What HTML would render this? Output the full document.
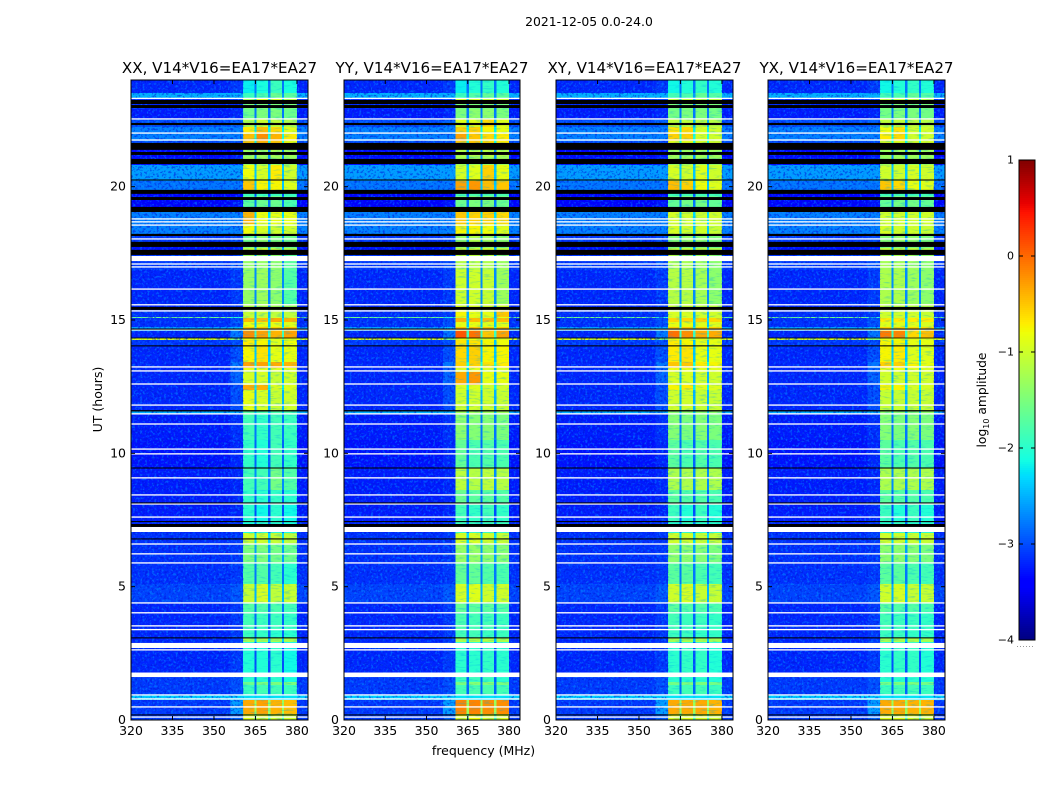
<!DOCTYPE html>
<html lang="en">
<head>
<meta charset="utf-8">
<title>2021-12-05 amplitude waterfall</title>
<style>
  html,body{margin:0;padding:0;background:#fff;width:1050px;height:800px;overflow:hidden}
  svg{display:block}
  text{font-family:"DejaVu Sans","Liberation Sans",sans-serif;fill:#000}
</style>
</head>
<body>
<svg id="figure" xmlns="http://www.w3.org/2000/svg" width="1050" height="800" viewBox="0 0 1050 800">
  <defs>
    <filter id="speckle-light" x="0" y="0" width="100%" height="100%" color-interpolation-filters="sRGB">
      <feTurbulence type="fractalNoise" baseFrequency="0.42" numOctaves="2" seed="4"/>
      <feColorMatrix type="matrix" values="0 0 0 0 0  0 0 0 0 0.62  0 0 0 0 1  5 0 0 0 -2.55"/>
    </filter>
    <filter id="speckle-dark" x="0" y="0" width="100%" height="100%" color-interpolation-filters="sRGB">
      <feTurbulence type="fractalNoise" baseFrequency="0.42" numOctaves="2" seed="11"/>
      <feColorMatrix type="matrix" values="0 0 0 0 0  0 0 0 0 0.08  0 0 0 0 0.85  5 0 0 0 -2.55"/>
    </filter>
    <filter id="band-streak" x="0" y="0" width="100%" height="100%" color-interpolation-filters="sRGB">
      <feTurbulence type="fractalNoise" baseFrequency="0.12 0.6" numOctaves="2" seed="7"/>
      <feColorMatrix type="matrix" values="0 0 0 0 0  0 0 0 0 0.67  0 0 0 0 0.92  5 0 0 0 -2.7"/>
    </filter>
  </defs>
  <text x="589" y="26" text-anchor="middle" font-size="12.4">2021-12-05 0.0-24.0</text>
  <text x="483.500" y="755" text-anchor="middle" font-size="12.500">frequency (MHz)</text>
  <text transform="translate(102,399.500) rotate(-90)" text-anchor="middle" font-size="12.500">UT (hours)</text>
  <text transform="translate(986,400) rotate(-90)" text-anchor="middle" font-size="12.300">log<tspan font-size="8" dy="3">10</tspan><tspan dy="-3"> amplitude</tspan></text>
  <g id="panels"></g>
  <g id="colorbar"></g>
</svg>
<script>
// ---- Chart data (log10 amplitude) ----
const panelTitles = ["XX, V14*V16=EA17*EA27", "YY, V14*V16=EA17*EA27", "XY, V14*V16=EA17*EA27", "YX, V14*V16=EA17*EA27"];
const freqTicks = [320, 335, 350, 365, 380];
const hourTicks = [0, 5, 10, 15, 20];
const colorbarTicks = [1, 0, -1, -2, -3, -4];
const colorbarLabels = ["1", "0", "\u22121", "\u22122", "\u22123", "\u22124"];

// frequency cell edges (MHz): off-band, shoulder, four sub-bands with gaps, upper edge
const freqEdges = [320, 356, 360.5, 364.6, 365.4, 369.6, 370.4, 374.6, 375.4, 380, 384];

// time row edges (UT hours)
const hourEdges = [0,.225,.75,.94,1.31,1.43,1.61,2.93,3.08,3.38,
  4.01,4.39,5.1,5.89,6.6,7.01,7.43,8.06,8.63,9.45,
  10.5,11.48,11.59,12.38,12.56,13.05,13.2,13.43,14.03,14.25,
  14.33,14.59,14.74,14.93,15.06,15.11,15.38,15.6,16.88,17.44,
  17.7,17.93,18.15,18.6,19.05,19.65,19.88,20.21,20.81,21.11,
  21.53,21.71,21.98,22.24,22.54,22.91,23.1,23.29,23.51,24];

const offBand = [-3.1,-3.1,-2.35,-3.1,-3.1,-3.1,-3.2,-3.2,-3.2,-3.2,
  -3.2,-3.05,-3.15,-3.15,-3.15,-3.2,-3.25,-3.25,-3.25,-3.3,
  -3.25,-2.5,-3.2,-3.2,-3.2,-3.2,-3.2,-3.2,-3.1,-0.9,
  -3.2,-2.6,-3.15,-3.15,-1.6,-3.15,-3.2,-3.2,-3.1,-3.3,
  -3.3,-3.1,-2.75,-2.75,-3.4,-3.4,-2.8,-2.6,-3.3,-3.4,
  -3,-2.75,-2.75,-3,-3.25,-3.2,-3.2,-2.5,-3.2];

const shoulder = [-2.9,-2.6,-2.35,-3,-3,-3,-3.1,-3.1,-3.1,-3.1,
  -3.1,-2.95,-3.1,-3.1,-3.1,-3.1,-3.2,-3.2,-3.2,-3.2,
  -3.15,-2.5,-3,-3,-2.9,-2.9,-2.8,-3,-3,-1.5,
  -2.8,-2.5,-3,-3,-2,-3.1,-3.1,-3.1,-3,-3.2,
  -3.3,-3,-2.75,-2.75,-3.3,-3.4,-2.8,-2.6,-3.2,-3.3,
  -3,-2.75,-2.75,-2.9,-3.2,-3.2,-3.1,-2.5,-3.1];

const gapLevel = [-1.8,-1.3,-2.35,-2.9,-2.8,-2.9,-3,-2.4,-2.9,-2.9,
  -2.8,-2.5,-2.8,-2.6,-2.3,-2.8,-3,-2.9,-2.7,-2.9,
  -2.8,-2.4,-2.5,-2.2,-2.5,-2.4,-2.1,-2.4,-2.4,-1.5,
  -1.9,-2,-2.4,-2.3,-2.5,-2.5,-2.6,-2.7,-2.7,-2.5,
  -2.8,-2.6,-2.4,-2.3,-2.8,-3,-2.4,-2.4,-2.7,-2.7,
  -2.1,-2.1,-2.2,-2.5,-2.8,-2.8,-2.4,-2.6,-2.8];

const xxBands = [
 [-.9,-.9,-1,-1],[-.35,-.3,-.4,-.45],[-2.25,-2.25,-2.25,-2.25],[-1.9,-1.85,-1.85,-1.9],[-1.6,-1.5,-1.5,-1.5],
 [-2,-2,-2,-2.1],[-2.05,-2.05,-2,-2.15],[-1.25,-1.25,-1.25,-1.2],[-1.9,-1.95,-2,-2],[-1.85,-1.9,-1.9,-1.95],
 [-1.75,-1.75,-1.8,-1.85],[-1.05,-.95,-1.1,-1.05],[-1.75,-1.75,-1.85,-2],[-1.5,-1.5,-1.55,-1.6],[-1,-1,-1.05,-1.1],
 [-2.1,-2,-2,-2.1],[-2,-2.15,-2,-2.15],[-1.95,-2,-1.95,-2],[-1.85,-1.85,-1.55,-1.75],[-1.95,-2.05,-1.85,-1.95],
 [-1.85,-1.95,-1.85,-1.9],[-1.7,-1.8,-1.8,-1.8],[-.85,-.95,-1.05,-1],[-.35,-.4,-.9,-.9],[-.95,-.95,-1.05,-1],
 [-.85,-.85,-.9,-.9],[-.3,-.3,-.35,-.4],[-.75,-.65,-.85,-.85],[-.7,-.75,-.9,-.8],[-.8,-.8,-.9,-.9],
 [-.2,-.3,-.4,-.3],[-.5,-.5,-.55,-.5],[-.8,-.85,-.85,-.9],[-.45,-.45,-.35,-.4],[-1,-1,-1,-1],
 [-1.05,-1.05,-1.1,-1.1],[-1.2,-1.2,-1.25,-1.3],[-1.35,-1.3,-1.4,-1.75],[-1.35,-1.35,-1.4,-1.7],[-1.1,-1,-1.1,-1.2],
 [-1.5,-1.5,-1.5,-1.6],[-1.6,-1.4,-1.5,-1.6],[-.8,-.95,-1,-1],[-.4,-.8,-.85,-.85],[-1.7,-1.6,-1.6,-1.8],
 [-1.9,-1.9,-1.9,-1.9],[-.5,-.75,-.75,-.9],[-.8,-.95,-.7,-1],[-1.3,-1.3,-1.3,-1.35],[-1.3,-1.3,-1.25,-1.3],
 [-.5,-.4,-.5,-.8],[-.45,-.2,-.4,-.7],[-.7,-.45,-.6,-.9],[-1.2,-1,-1.1,-1.2],[-1.6,-1.5,-1.5,-1.6],
 [-1.5,-1.5,-1.5,-1.5],[-1.2,-.9,-.9,-1.1],[-1.9,-1.8,-1.6,-1.7],[-2.2,-2.1,-1.9,-2.1]];

const yyBands = [
 [-.8,-.8,-.9,-.9],[-.15,-.15,-.2,-.2],[-2.25,-2.25,-2.25,-2.25],[-1.85,-1.8,-1.8,-1.85],[-1.5,-1.45,-1.45,-1.5],
 [-1.9,-1.9,-1.9,-2],[-2,-2,-1.95,-2],[-1.2,-1.2,-1.15,-1.2],[-1.85,-1.85,-1.9,-1.9],[-1.8,-1.85,-1.85,-1.9],
 [-1.65,-1.7,-1.7,-1.75],[-.95,-.9,-1,-1],[-1.65,-1.65,-1.75,-1.8],[-1.35,-1.35,-1.4,-1.45],[-.95,-.95,-1,-1.05],
 [-1.9,-1.9,-1.9,-1.9],[-1.85,-1.95,-1.85,-1.95],[-1.6,-1.7,-1.7,-1.75],[-1.1,-1.15,-1.1,-1.15],[-1.65,-1.8,-1.75,-1.8],
 [-1.4,-1.45,-1.45,-1.5],[-1.3,-1.3,-1.3,-1.3],[-1,-1,-1,-1.05],[-.9,-.9,-1,-1],[-.35,-.25,-.85,-.85],
 [-.9,-.9,-.95,-.95],[-.55,-.55,-.65,-.7],[-.6,-.55,-.75,-.75],[-.65,-.65,-.75,-.8],[-.8,-.8,-.9,-.9],
 [.1,-.05,-.5,-.3],[-.45,-.45,-.5,-.5],[-.85,-.85,-.9,-.9],[-.4,-.45,-.45,-.45],[-.9,-.9,-1,-.9],
 [-.75,-.85,-.85,-.5],[-.9,-.95,-1,-1],[-1,-1,-1.05,-1.3],[-1.15,-1.15,-1.2,-1.3],[-1,-1,-1,-1.1],
 [-1.4,-1.4,-1.4,-1.5],[-1.35,-1.2,-1.3,-1.4],[-.75,-.75,-.8,-.9],[-.5,-.55,-.55,-.6],[-1.6,-1.5,-1.5,-1.6],
 [-1.8,-1.8,-1.8,-1.8],[-.3,-.25,-.45,-.5],[-.95,-.9,-.55,-.85],[-1.3,-1.3,-1.3,-1.3],[-1.2,-1.2,-1.15,-1.2],
 [-.5,-.5,-.6,-.7],[-.3,-.5,-.6,-.7],[-.55,-.55,-.75,-.85],[-.9,-.9,-.6,-.9],[-1.5,-1.4,-1.4,-1.5],
 [-1.5,-1.5,-1.5,-1.5],[-.95,-.9,-.9,-1],[-1.9,-1.75,-1.65,-1.7],[-2.2,-2.05,-1.95,-2.05]];

const xyBands = [
 [-.9,-.9,-.95,-1],[-.35,-.35,-.35,-.4],[-2.25,-2.25,-2.25,-2.25],[-1.9,-1.85,-1.85,-1.9],[-1.55,-1.5,-1.5,-1.55],
 [-2,-2,-2,-2.05],[-2,-1.95,-1.95,-2.05],[-1.25,-1.2,-1.2,-1.25],[-1.9,-1.9,-1.95,-1.95],[-1.85,-1.9,-1.9,-1.95],
 [-1.7,-1.75,-1.75,-1.8],[-1,-.95,-1.05,-1.05],[-1.7,-1.7,-1.8,-1.85],[-1.4,-1.4,-1.45,-1.5],[-1,-1,-1.05,-1.05],
 [-2,-1.95,-2,-2],[-1.9,-2.05,-1.9,-2.05],[-1.7,-1.75,-1.75,-1.8],[-1.2,-1.2,-1.2,-1.2],[-1.7,-1.8,-1.75,-1.8],
 [-1.45,-1.5,-1.45,-1.5],[-1.4,-1.4,-1.4,-1.4],[-1,-1,-1.05,-1.05],[-.75,-.7,-.9,-.9],[-.95,-.95,-1,-1],
 [-.8,-.85,-.9,-.9],[-.5,-.5,-.7,-.75],[-.7,-.65,-.85,-.85],[-.7,-.75,-.85,-.85],[-.8,-.85,-.9,-.9],
 [-.05,-.2,-.35,-.35],[-.5,-.5,-.55,-.55],[-.85,-.85,-.9,-.9],[-.6,-.6,-.55,-.6],[-1,-1,-1,-1],
 [-.95,-.95,-1,-1],[-1.05,-1.05,-1.1,-1.1],[-1.15,-1.15,-1.25,-1.4],[-1.2,-1.25,-1.3,-1.4],[-1.1,-1.1,-1.1,-1.2],
 [-1.5,-1.5,-1.5,-1.55],[-1.45,-1.35,-1.4,-1.5],[-.95,-1,-1,-1.05],[-.95,-1,-1,-1],[-1.65,-1.55,-1.55,-1.65],
 [-1.85,-1.85,-1.85,-1.85],[-.45,-.55,-.8,-.9],[-.95,-1,-.9,-1],[-1.3,-1.3,-1.3,-1.3],[-1.3,-1.3,-1.3,-1.3],
 [-.9,-.9,-.95,-1],[-.55,-.55,-.95,-1],[-.65,-.6,-.95,-1],[-1.1,-1.1,-1.1,-1.15],[-1.55,-1.5,-1.5,-1.55],
 [-1.5,-1.5,-1.5,-1.5],[-1.05,-1.05,-1.05,-1.1],[-1.85,-1.8,-1.65,-1.75],[-2.15,-2.05,-1.95,-2.05]];

const yxBands = [
 [-.9,-.9,-.95,-1],[-.35,-.35,-.4,-.4],[-2.25,-2.25,-2.25,-2.25],[-1.9,-1.85,-1.85,-1.9],[-1.55,-1.5,-1.5,-1.55],
 [-2,-2,-2,-2.05],[-2,-1.95,-1.95,-2.05],[-1.25,-1.2,-1.2,-1.25],[-1.9,-1.9,-1.95,-1.95],[-1.85,-1.9,-1.9,-1.95],
 [-1.7,-1.75,-1.75,-1.8],[-1,-.95,-1.05,-1.05],[-1.7,-1.7,-1.8,-1.85],[-1.4,-1.4,-1.45,-1.5],[-1,-1,-1.05,-1.05],
 [-2,-1.95,-2,-2],[-1.9,-2.05,-1.9,-2.05],[-1.7,-1.75,-1.75,-1.8],[-1.2,-1.2,-1.2,-1.2],[-1.7,-1.8,-1.75,-1.8],
 [-1.45,-1.5,-1.45,-1.5],[-1.4,-1.4,-1.4,-1.4],[-1.05,-1.05,-1.05,-1.05],[-.75,-.75,-.95,-.95],[-1,-1,-1,-1],
 [-.85,-.85,-.9,-.95],[-.55,-.55,-.75,-.85],[-.75,-.7,-.9,-.9],[-.75,-.75,-.85,-.85],[-.85,-.85,-.9,-.9],
 [-.1,-.15,-.6,-.45],[-.55,-.55,-.6,-.6],[-.9,-.9,-.9,-.95],[-.7,-.7,-.7,-.7],[-1,-1,-1,-1],
 [-1,-1,-1,-1.05],[-1.1,-1.1,-1.15,-1.15],[-1.2,-1.2,-1.3,-1.4],[-1.25,-1.25,-1.3,-1.4],[-1.1,-1.1,-1.1,-1.2],
 [-1.5,-1.5,-1.5,-1.55],[-1.45,-1.35,-1.4,-1.5],[-.95,-1,-1,-1.05],[-1,-1,-1,-1],[-1.65,-1.55,-1.55,-1.65],
 [-1.85,-1.85,-1.85,-1.85],[-.5,-.6,-.85,-.9],[-1,-1,-.95,-1],[-1.3,-1.3,-1.3,-1.3],[-1.3,-1.3,-1.3,-1.3],
 [-.95,-.9,-1,-1],[-.7,-.6,-1,-1],[-.8,-.65,-1,-1],[-1.1,-1.1,-1.1,-1.15],[-1.55,-1.5,-1.5,-1.55],
 [-1.5,-1.5,-1.5,-1.5],[-1.05,-1.05,-1.05,-1.1],[-1.85,-1.8,-1.65,-1.75],[-2.15,-2.05,-1.95,-2.05]];

// flagged time ranges (UT hours), common to every panel
const whiteLines = [.11,.49,.79,.94,2.63,3.39,3.53,4.02,4.39,5.89,6.23,6.6,7.61,8.1,8.44,9.08,9.98,10.16,11.1,11.48,11.81,12.6,13.09,13.24,14.63,15.34,15.57,16.16,16.99,17.1,18.04,18.56,18.68,18.79,21.75,22.01,22.54,23.31];
const whiteBlocks = [[1.61,1.78],[2.7,2.89],[7.05,7.24],[17.21,17.4]];
const blackLines = [.19,3.08,6.79,7.44,8.14,9.45,14.03,14.66,20.25];
const blackBlocks = [[7.24,7.35],[11.57,11.62],[14.31,14.34],[15.38,15.49],[17.44,17.63],[17.74,17.93],[18.15,18.23],[19.05,19.24],[19.5,19.61],[19.73,19.88],[20.85,21.04],[21.19,21.3],[21.38,21.64],[22.31,22.39],[22.95,23.06],[23.1,23.25]];

const panelBands = [xxBands, yyBands, xyBands, yxBands];
const panelNames = ["xx", "yy", "xy", "yx"];
const panelLefts = [131, 344, 556, 768];
const panelWidths = [177, 176, 177, 177];

// ---- Scales ----
const NS = "http://www.w3.org/2000/svg";
const plotTop = 80, plotBottom = 720;
const yScale = h => plotBottom - (h / 24) * (plotBottom - plotTop);
const xScale = (f, p) => panelLefts[p] + ((f - 320) / 64) * panelWidths[p];

function ramp(t, pts) {
  for (let i = 1; i < pts.length; i++) {
    if (t <= pts[i][0]) {
      const a = pts[i - 1], b = pts[i];
      return a[1] + (b[1] - a[1]) * (t - a[0]) / (b[0] - a[0]);
    }
  }
  return pts[pts.length - 1][1];
}
function jet(level) {
  const t = Math.max(0, Math.min(1, (level + 4) / 5));
  const r = ramp(t, [[0,0],[.35,0],[.66,1],[.89,1],[1,.5]]);
  const g = ramp(t, [[0,0],[.125,0],[.375,1],[.64,1],[.91,0],[1,0]]);
  const b = ramp(t, [[0,.5],[.11,1],[.34,1],[.65,0],[1,0]]);
  return `rgb(${Math.round(r*255)},${Math.round(g*255)},${Math.round(b*255)})`;
}
function svgEl(tag, attrs, parent) {
  const el = document.createElementNS(NS, tag);
  for (const k in attrs) el.setAttribute(k, attrs[k]);
  parent.appendChild(el);
  return el;
}
function cellLevel(row, col, bands) {
  if (col === 0 || col === 9) return offBand[row];
  if (col === 1) return shoulder[row];
  if (col === 3 || col === 5 || col === 7) return gapLevel[row];
  return bands[row][(col - 2) / 2];
}

const panelsRoot = document.getElementById("panels");
panelTitles.forEach((title, p) => {
  const left = panelLefts[p], width = panelWidths[p], right = left + width;
  const g = svgEl("g", {}, panelsRoot);
  
  

  const heat = svgEl("g", {"shape-rendering": "crispEdges"}, g);
  
  
  for (let r = 0; r < hourEdges.length - 1; r++) {
    const y0 = Math.round(yScale(hourEdges[r + 1])), y1 = Math.round(yScale(hourEdges[r]));
    for (let c = 0; c < freqEdges.length - 1; c++) {
      const x0 = xScale(freqEdges[c], p), x1 = xScale(freqEdges[c + 1], p);
      const cell = svgEl("rect", {x: x0, y: y0, width: x1 - x0, height: Math.max(1, y1 - y0), fill: jet(cellLevel(r, c, panelBands[p]))}, heat);
      
      
    }
  }

  // fine speckle texture over the off-band background
  [[320, 360.5], [380, 384]].forEach(range => {
    const x0 = xScale(range[0], p), x1 = xScale(range[1], p);
    ["speckle-light", "speckle-dark"].forEach(id => {
      const tex = svgEl("rect", {x: x0, y: plotTop, width: x1 - x0, height: plotBottom - plotTop, filter: `url(#${id})`, opacity: id === "speckle-light" ? 0.45 : 0.55}, g);
      
      
    });
  });
  // horizontal streak texture inside the signal band
  const streak = svgEl("rect", {x: xScale(360.5, p), y: plotTop, width: xScale(380, p) - xScale(360.5, p), height: plotBottom - plotTop, filter: "url(#band-streak)", opacity: 0.3}, g);
  
  

  const flags = svgEl("g", {}, g);
  
  
  const addFlag = (h0, h1, colour) => {
    const yTop = yScale(h1);
    const yBot = yScale(h0);
    const f = svgEl("rect", {x: left, y: yTop, width: width, height: yBot - yTop, fill: colour}, flags);
    
    
  };
  whiteBlocks.forEach(b => addFlag(b[0], b[1], "#fff"));
  whiteLines.forEach(h => addFlag(h - 0.025, h + 0.025, "#fff"));
  blackBlocks.forEach(b => addFlag(b[0], b[1], "#000"));
  blackLines.forEach(h => addFlag(h - 0.02, h + 0.02, "#000"));

  const t = svgEl("text", {x: (left + right) / 2, y: 73, "text-anchor": "middle", "font-size": "15.1"}, g);
  
  
  t.textContent = title;

  freqTicks.forEach(f => {
    const x = xScale(f, p);
    [[plotBottom, plotBottom - 4], [plotTop, plotTop + 4]].forEach(s => {
      const tick = svgEl("line", {x1: x, x2: x, y1: s[0], y2: s[1], stroke: "#000", "stroke-width": 1}, g);
      
      
    });
    const lab = svgEl("text", {x: x, y: 735, "text-anchor": "middle", "font-size": "12.5"}, g);
    
    
    lab.textContent = f;
  });
  hourTicks.forEach(h => {
    const y = yScale(h);
    [[left, left + 4], [right, right - 4]].forEach(s => {
      const tick = svgEl("line", {x1: s[0], x2: s[1], y1: y, y2: y, stroke: "#000", "stroke-width": 1}, g);
      
      
    });
    const lab = svgEl("text", {x: left - 5, y: y + 4, "text-anchor": "end", "font-size": "12.5"}, g);
    
    
    lab.textContent = h;
  });

  const frame = svgEl("rect", {x: left, y: plotTop, width: width, height: plotBottom - plotTop, fill: "none", stroke: "#000", "stroke-width": 1}, g);
  
  
});

// ---- Colour bar ----
const cbRoot = document.getElementById("colorbar");
const cbLeft = 1019, cbRight = 1035, cbTop = 160, cbBottom = 640;
const cbY = v => cbBottom - ((v + 4) / 5) * (cbBottom - cbTop);
const cbSwatches = svgEl("g", {"shape-rendering": "crispEdges"}, cbRoot);


for (let py = cbTop; py < cbBottom; py += 2) {
  const level = -4 + 5 * (cbBottom - py - 1) / (cbBottom - cbTop);
  const sw = svgEl("rect", {x: cbLeft, y: py, width: cbRight - cbLeft, height: 2, fill: jet(level)}, cbSwatches);
  
  
}
colorbarTicks.forEach((v, i) => {
  const y = cbY(v);
  [[cbLeft, cbLeft + 4], [cbRight, cbRight - 4]].forEach(s => {
    const tick = svgEl("line", {x1: s[0], x2: s[1], y1: y, y2: y, stroke: "#000", "stroke-width": 1}, cbRoot);
    
    
  });
  const lab = svgEl("text", {x: 1014, y: y + 3.500, "text-anchor": "end", "font-size": "11"}, cbRoot);
  
  
  lab.textContent = colorbarLabels[i];
});
const cbFrame = svgEl("rect", {x: cbLeft, y: cbTop, width: cbRight - cbLeft, height: cbBottom - cbTop, fill: "none", stroke: "#000", "stroke-width": 1}, cbRoot);


const cbDots = svgEl("line", {x1: 1017, x2: 1035, y1: 646.5, y2: 646.5, stroke: "#999", "stroke-width": 1, "stroke-dasharray": "1 2"}, cbRoot);


</script>
</body>
</html>
